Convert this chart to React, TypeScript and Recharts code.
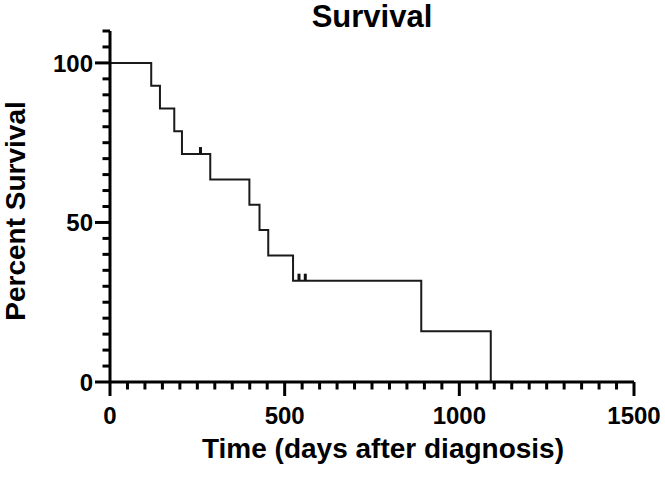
import {
  ComposedChart,
  Line,
  Scatter,
  XAxis,
  YAxis,
} from "recharts";

// Kaplan-Meier steps (days, percent survival)
const stepDays = [0, 118, 143, 184, 206, 287, 399, 428, 453, 524, 891, 1090];
const stepSurvival = [100, 92.86, 85.71, 78.57, 71.43, 63.49, 55.56, 47.62, 39.68, 31.75, 15.87, 0];

// censored subjects
const censorDays = [259, 541, 559];
const censorSurvival = [71.43, 31.75, 31.75];

const xTicks = [
  0, 50, 100, 150, 200, 250, 300, 350, 400, 450, 500, 550, 600, 650, 700, 750,
  800, 850, 900, 950, 1000, 1050, 1100, 1150, 1200, 1250, 1300, 1350, 1400,
  1450, 1500,
];
const xLabels = [0, 500, 1000, 1500];

const yTicks = [0, 5, 10, 15, 20, 25, 30, 35, 40, 45, 50, 55, 60, 65, 70, 75, 80, 85, 90, 95, 100, 105, 110];
const yLabels = [0, 50, 100];

const FONT = "'Liberation Sans', Arial, Helvetica, sans-serif";

const steps = stepDays.map((t, i) => ({ t, s: stepSurvival[i] }));
const censored = censorDays.map((t, i) => ({ t, s: censorSurvival[i] }));

function XTick(props: any) {
  const { x, y, payload } = props;
  const major = xLabels.includes(payload.value);
  return (
    <g>
      <line x1={x} x2={x} y1={y} y2={y + (major ? 14 : 7.5)} stroke="#000" strokeWidth={3} />
      {major && (
        <text
          x={x}
          y={y + 42}
          textAnchor="middle"
          fontSize={24}
          fontWeight="bold"
          fontFamily={FONT}
          fill="#000"
        >
          {payload.value}
        </text>
      )}
    </g>
  );
}

function YTick(props: any) {
  const { x, y, payload } = props;
  const major = yLabels.includes(payload.value);
  return (
    <g>
      <line x1={x} x2={x - (major ? 15 : 7.5)} y1={y} y2={y} stroke="#000" strokeWidth={3} />
      {major && (
        <text
          x={x - 17}
          y={y + 9}
          textAnchor="end"
          fontSize={24}
          fontWeight="bold"
          fontFamily={FONT}
          fill="#000"
        >
          {payload.value}
        </text>
      )}
    </g>
  );
}

function CensorMark(props: any) {
  const { cx, cy } = props;
  return <rect x={cx - 1.5} y={cy - 7} width={3} height={7} fill="#111" />;
}

export default function App() {
  return (
    <div style={{ position: "absolute", left: 0, top: 0, width: 665, height: 477, background: "#fff" }}>
      <ComposedChart
        width={665}
        height={477}
        margin={{ top: 31, right: 31, left: 0, bottom: 0 }}
      >
        <XAxis
          dataKey="t"
          type="number"
          domain={[0, 1500]}
          ticks={xTicks}
          interval={0}
          height={95}
          tickSize={0}
          tickMargin={0}
          tickLine={false}
          tick={<XTick />}
          axisLine={{ stroke: "#000", strokeWidth: 3 }}
        />
        <YAxis
          dataKey="s"
          type="number"
          domain={[0, 110]}
          ticks={yTicks}
          interval={0}
          width={110}
          tickSize={0}
          tickMargin={0}
          tickLine={false}
          tick={<YTick />}
          axisLine={{ stroke: "#000", strokeWidth: 3 }}
        />
        <Line
          data={steps}
          dataKey="s"
          type="stepAfter"
          stroke="#1a1a1a"
          strokeWidth={2}
          dot={false}
          isAnimationActive={false}
        />
        <Scatter
          data={censored}
          dataKey="s"
          shape={<CensorMark />}
          isAnimationActive={false}
        />
      </ComposedChart>
      <svg
        width={665}
        height={477}
        style={{ position: "absolute", left: 0, top: 0, pointerEvents: "none" }}
      >
        <text x={372} y={27} textAnchor="middle" fontSize={31} fontWeight="bold" fontFamily={FONT} fill="#000">
          Survival
        </text>
        <text x={383} y={458} textAnchor="middle" fontSize={28} fontWeight="bold" fontFamily={FONT} fill="#000">
          Time (days after diagnosis)
        </text>
        <text
          x={25}
          y={211}
          textAnchor="middle"
          fontSize={28}
          fontWeight="bold"
          fontFamily={FONT}
          fill="#000"
          transform="rotate(-90 25 211)"
        >
          Percent Survival
        </text>
      </svg>
    </div>
  );
}
